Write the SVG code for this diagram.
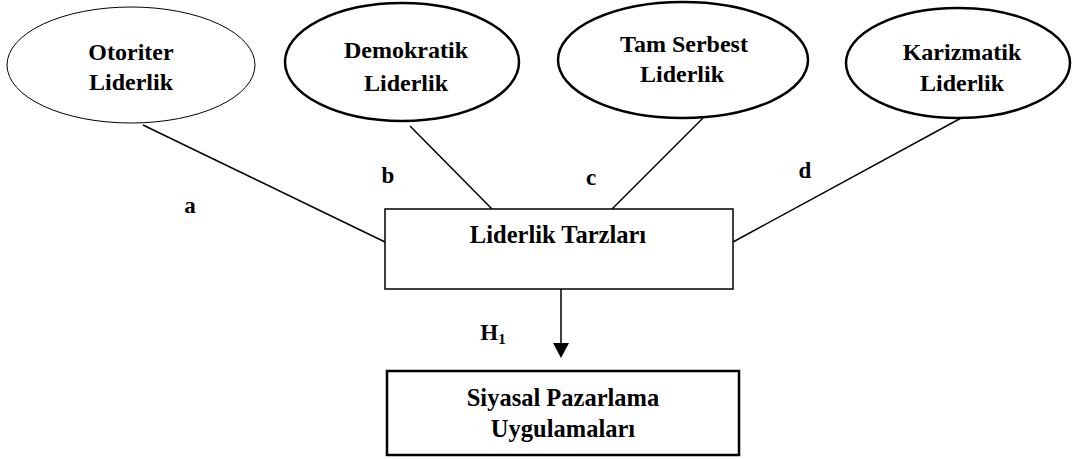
<svg xmlns="http://www.w3.org/2000/svg" width="1072" height="459" viewBox="0 0 1072 459">
<defs>
<style>
.t{font-family:"Liberation Serif","Times New Roman",serif;font-weight:bold;font-size:24px;fill:#000;text-anchor:middle}
.b{font-size:24.5px}
.l{font-family:"Liberation Serif","Times New Roman",serif;font-weight:bold;font-size:23px;fill:#000;text-anchor:middle}
.thin{fill:#fff;stroke:#000;stroke-width:1}
.thick{fill:#fff;stroke:#000;stroke-width:2.5}
.c{stroke:#000;stroke-width:1.5;fill:none}
</style>
</defs>
<rect width="1072" height="459" fill="#fff"/>
<g id="connectors">
<line class="c" x1="143" y1="125" x2="385" y2="242"/>
<line class="c" x1="410" y1="126" x2="492" y2="209"/>
<line class="c" x1="703" y1="118" x2="612" y2="209"/>
<line class="c" x1="963" y1="117" x2="733" y2="242"/>
<line class="c" x1="561" y1="289" x2="561" y2="343"/>
<path d="M553,343 L569,343 L561,358 Z" fill="#000"/>
<text class="l" x="190" y="213">a</text>
<text class="l" x="388" y="183">b</text>
<text class="l" x="591" y="185">c</text>
<text class="l" x="805" y="178">d</text>
<text class="l" x="493" y="340">H<tspan font-size="15" dy="4">1</tspan></text>
</g>
<g id="otoriter">
<ellipse class="thin" cx="131" cy="65" rx="124" ry="58"/>
<text class="t" x="131" y="60" font-size="23">Otoriter</text>
<text class="t" x="131" y="90" font-size="23">Liderlik</text>
</g>
<g id="demokratik">
<ellipse class="thick" cx="402" cy="62" rx="117" ry="59"/>
<text class="t" x="406" y="58">Demokratik</text>
<text class="t" x="406" y="91">Liderlik</text>
</g>
<g id="tamserbest">
<ellipse class="thick" cx="683" cy="60" rx="125" ry="58"/>
<text class="t" x="684" y="52">Tam Serbest</text>
<text class="t" x="682" y="82">Liderlik</text>
</g>
<g id="karizmatik">
<ellipse class="thick" cx="958" cy="63" rx="112" ry="55"/>
<text class="t" x="962" y="60">Karizmatik</text>
<text class="t" x="962" y="91">Liderlik</text>
</g>
<g id="liderlik-tarzlari">
<rect x="385" y="209" width="348" height="80" fill="#fff" stroke="#000" stroke-width="1.5"/>
<text class="t b" x="558" y="243">Liderlik Tarzları</text>
</g>
<g id="siyasal-pazarlama">
<rect x="387" y="371" width="352" height="84" fill="#fff" stroke="#000" stroke-width="2.5"/>
<text class="t b" x="563" y="406">Siyasal Pazarlama</text>
<text class="t b" x="563" y="437">Uygulamaları</text>
</g>
</svg>
